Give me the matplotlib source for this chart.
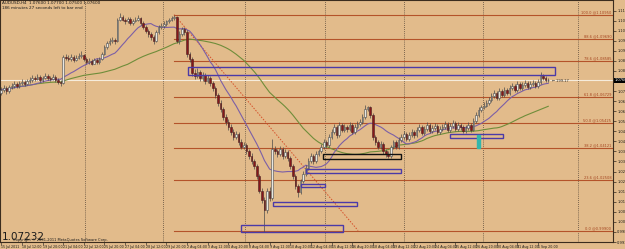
import numpy as np
import pandas as pd
import matplotlib
matplotlib.use("Agg")
import matplotlib.pyplot as plt
from matplotlib.patches import Rectangle
import matplotlib.transforms as mtransforms

### Data (H4 candles, prices in pips of 0.0001) ###
PIP = 1e-4
open_first = 10695
close_pips = [
    10710, 10720, 10705, 10725, 10730, 10740, 10730, 10745, 10750, 10740,
    10755, 10760, 10770, 10765, 10775, 10760, 10770, 10780, 10770, 10765,
    10775, 10760, 10750, 10745, 10880, 10875, 10870, 10880, 10865, 10875,
    10885, 10890, 10870, 10855, 10860, 10845, 10865, 10855, 10870, 10895,
    10930, 10950, 10960, 10965, 10960, 11070, 11085, 11070, 11060, 11075,
    11050, 11065, 11070, 11080, 11050, 11030, 11010, 10995, 10980, 10960,
    11005, 11030, 11035, 11045, 11060, 11070, 11080, 11085, 10960, 10995,
    11020, 11005, 10895, 10870, 10795, 10780, 10800, 10770, 10785, 10755,
    10770, 10745, 10720, 10685, 10645, 10610, 10570, 10545, 10520, 10495,
    10470, 10485, 10445, 10420, 10430, 10395, 10370, 10345, 10320, 10270,
    10195, 10145, 10095, 10195, 10155, 10410, 10395, 10380, 10410, 10370,
    10390, 10360, 10320, 10270, 10220, 10185, 10245, 10280, 10310, 10345,
    10370, 10345, 10380, 10395, 10420, 10445, 10430, 10470, 10495, 10520,
    10480, 10530, 10505, 10520, 10510, 10530, 10495, 10520, 10535, 10545,
    10570, 10610, 10620, 10580, 10470, 10445, 10420, 10435, 10395, 10380,
    10370, 10420, 10445, 10420, 10455, 10470, 10485, 10460, 10480, 10495,
    10480, 10505, 10520, 10490, 10510, 10530, 10500, 10515, 10525, 10495,
    10510, 10520, 10535, 10505, 10525, 10540, 10510, 10530, 10520, 10500,
    10515, 10530, 10505, 10550, 10580, 10605, 10620, 10630, 10645, 10660,
    10680, 10695, 10670, 10705, 10685, 10710, 10695, 10720, 10730, 10710,
    10740, 10720, 10735, 10745, 10725, 10740, 10745, 10730, 10750, 10780,
    10770, 10760, 10760,
]
high_pips = [
    10725, 10735, 10730, 10735, 10745, 10755, 10750, 10755, 10765, 10760,
    10765, 10775, 10785, 10780, 10790, 10785, 10780, 10795, 10790, 10780,
    10790, 10785, 10770, 10760, 10890, 10895, 10890, 10895, 10890, 10890,
    10900, 10910, 10895, 10880, 10875, 10870, 10875, 10875, 10880, 10905,
    10940, 10960, 10975, 10980, 10975, 11080, 11105, 11095, 11080, 11085,
    11085, 11075, 11085, 11095, 11085, 11060, 11040, 11020, 11005, 10990,
    11015, 11040, 11050, 11060, 11070, 11080, 11090, 11095, 11090, 11010,
    11030, 11030, 11015, 10905, 10880, 10815, 10820, 10810, 10800, 10795,
    10785, 10780, 10755, 10730, 10695, 10660, 10620, 10585, 10560, 10535,
    10510, 10500, 10495, 10460, 10445, 10440, 10405, 10385, 10355, 10330,
    10280, 10210, 10160, 10210, 10215, 10460, 10425, 10405, 10425, 10420,
    10405, 10400, 10370, 10330, 10280, 10230, 10255, 10295, 10325, 10360,
    10385, 10380, 10395, 10410, 10435, 10460, 10455, 10485, 10510, 10535,
    10530, 10545, 10540, 10535, 10530, 10545, 10540, 10535, 10550, 10560,
    10585, 10635, 10630, 10625, 10590, 10480, 10455, 10450, 10445, 10405,
    10395, 10430, 10455, 10455, 10470, 10485, 10500, 10495, 10495, 10510,
    10505, 10520, 10535, 10530, 10525, 10545, 10540, 10530, 10540, 10535,
    10525, 10535, 10550, 10545, 10540, 10555, 10550, 10545, 10540, 10530,
    10530, 10545, 10540, 10565, 10595, 10620, 10635, 10650, 10660, 10675,
    10695, 10710, 10705, 10720, 10715, 10725, 10720, 10735, 10745, 10740,
    10755, 10750, 10750, 10760, 10755, 10755, 10760, 10755, 10765, 10800,
    10790, 10780, 10770,
]
low_pips = [
    10685, 10700, 10690, 10695, 10715, 10720, 10720, 10720, 10735, 10730,
    10735, 10745, 10750, 10755, 10760, 10750, 10750, 10765, 10760, 10755,
    10760, 10750, 10740, 10730, 10740, 10865, 10860, 10860, 10855, 10860,
    10870, 10875, 10860, 10845, 10845, 10835, 10840, 10845, 10845, 10865,
    10890, 10920, 10940, 10950, 10945, 10955, 11060, 11060, 11045, 11050,
    11040, 11040, 11055, 11060, 11040, 11020, 11000, 10980, 10965, 10945,
    10955, 10995, 11020, 11025, 11035, 11050, 11060, 11070, 10950, 10945,
    10985, 10990, 10880, 10855, 10780, 10765, 10770, 10755, 10755, 10740,
    10745, 10730, 10705, 10670, 10630, 10595, 10555, 10530, 10505, 10480,
    10455, 10460, 10430, 10405, 10410, 10380, 10355, 10330, 10305, 10255,
    10180, 10130, 9985, 10080, 10140, 10145, 10380, 10365, 10370, 10355,
    10360, 10345, 10305, 10255, 10205, 10160, 10175, 10235, 10270, 10300,
    10335, 10330, 10335, 10370, 10385, 10410, 10415, 10420, 10460, 10485,
    10465, 10470, 10495, 10495, 10495, 10500, 10485, 10485, 10510, 10525,
    10535, 10560, 10600, 10565, 10455, 10430, 10405, 10410, 10380, 10365,
    10360, 10360, 10410, 10405, 10410, 10445, 10460, 10450, 10450, 10470,
    10465, 10470, 10495, 10480, 10480, 10500, 10490, 10490, 10505, 10485,
    10485, 10500, 10510, 10495, 10495, 10515, 10500, 10500, 10505, 10490,
    10490, 10505, 10495, 10500, 10540, 10570, 10595, 10610, 10620, 10635,
    10650, 10670, 10660, 10660, 10675, 10675, 10685, 10685, 10710, 10700,
    10700, 10710, 10710, 10725, 10715, 10715, 10730, 10720, 10720, 10740,
    10760, 10750, 10750,
]
time_labels = [
    "15 Jul 2011", "18 Jul 12:00", "19 Jul 20:00", "21 Jul 04:00", "22 Jul 12:00",
    "25 Jul 20:00", "27 Jul 04:00", "28 Jul 12:00", "29 Jul 20:00", "2 Aug 04:00",
    "3 Aug 12:00", "4 Aug 20:00", "8 Aug 04:00", "9 Aug 12:00", "10 Aug 20:00",
    "12 Aug 04:00", "15 Aug 12:00", "16 Aug 20:00", "18 Aug 04:00", "19 Aug 12:00",
    "22 Aug 20:00", "24 Aug 04:00", "25 Aug 12:00", "26 Aug 20:00", "30 Aug 04:00",
    "31 Aug 12:00", "1 Sep 20:00",
]
week_separators = [32.4, 62.7, 94.5, 125.5, 156.1, 186.7, 223.5]

# fibonacci retracement anchors (bar, price)
fib_high = (67, 1.10950)
fib_low = (138.3, 0.99900)
fib_levels = [0.0, 23.6, 38.2, 50.0, 61.8, 78.6, 88.6, 100.0]

# drawn boxes: (bar start, bar end, price low, price high, colour)
boxes = [
    (72.4, 214.6, 1.0785, 1.0825, "#4b3aa8"),
    (124.7, 154.9, 1.0355, 1.0380, "#111111"),
    (118.1, 154.9, 1.0285, 1.0305, "#4b3aa8"),
    (116.2, 125.5, 1.0215, 1.0230, "#4b3aa8"),
    (105.3, 137.9, 1.0115, 1.0135, "#4b3aa8"),
    (92.9, 132.4, 0.9985, 1.0020, "#4b3aa8"),
    (173.9, 194.5, 1.0465, 1.0483, "#4b3aa8"),
]
teal_mark = (184.2, 185.4, 1.0415, 1.0480)
price_now = 1.07600

### Prepare ###
close = np.array(close_pips) * PIP
high = np.array(high_pips) * PIP
low = np.array(low_pips) * PIP
opn = np.concatenate([[open_first * PIP], close[:-1]])
idx = np.arange(len(close))
ma_fast = pd.Series(close).rolling(14, min_periods=1).mean()
ma_slow = pd.Series(close).rolling(50, min_periods=1).mean()

BG = "#e2bb8b"
fig = plt.figure(figsize=(6.25, 2.49), dpi=100, facecolor=BG)
ax = fig.add_axes([0, 7 / 249, 613 / 625, 242 / 249])
ax.set_facecolor(BG)
ax.set_xlim(-0.5, 237.1)
ax.set_ylim(0.9960, 1.1170)

for xs in week_separators:
    ax.axvline(xs, color="#5a4a3a", linestyle=(0, (1, 1.5)), linewidth=0.6, zorder=1)

ax.axhline(price_now, color="#f6ecdc", linewidth=0.8, zorder=1)

# fibonacci
fr = fib_high[1] - fib_low[1]
for lv in fib_levels:
    p = fib_low[1] + fr * lv / 100
    ax.plot([fib_high[0], 237.1], [p, p], color="#b4532a", linewidth=0.8, zorder=1)
    ax.text(236.5, p + 0.0003, f"{lv:.1f} @{p:.5f}", fontsize=2.6, color="#a4441f",
            ha="right", va="bottom", zorder=5)
ax.plot([fib_high[0], fib_low[0]], [fib_high[1], fib_low[1]], color="#d5502a",
        linestyle=(0, (1.5, 1.5)), linewidth=0.7, zorder=1)

# moving averages
ax.plot(idx, ma_slow, color="#6f8d3a", linewidth=0.8, zorder=2)
ax.plot(idx, ma_fast, color="#7c5fa6", linewidth=0.8, zorder=2)

# candles
up = close >= opn
ax.vlines(idx, low, high, color="#4a4a4a", linewidth=0.5, zorder=3)
body_lo = np.minimum(opn, close)
body_h = np.maximum(np.abs(close - opn), 0.00008)
ax.bar(idx[up], body_h[up], bottom=body_lo[up], width=0.62, color="#e6e6e2",
       edgecolor="#4a4a4a", linewidth=0.4, zorder=4)
ax.bar(idx[~up], body_h[~up], bottom=body_lo[~up], width=0.62, color="#86171a",
       edgecolor="#4a2020", linewidth=0.4, zorder=4)

for x0, x1, y0, y1, col in boxes:
    ax.add_patch(Rectangle((x0, y0), x1 - x0, y1 - y0, fill=False, edgecolor=col,
                           linewidth=1.0, zorder=5))
ax.add_patch(Rectangle((teal_mark[0], teal_mark[2]), teal_mark[1] - teal_mark[0],
                       teal_mark[3] - teal_mark[2], color="#33b6ab", zorder=5))

ax.text(idx[-1] + 1.5, price_now - 0.0004, "\u2190 199.17", fontsize=2.6,
        color="#2a2a2a", va="center", zorder=6)

# axes, ticks
for s in ax.spines.values():
    s.set_color("#3b2c1e")
    s.set_linewidth(0.8)
ax.set_xticks(idx[::8][:len(time_labels)])
ax.set_xticklabels(time_labels, fontsize=2.3, ha="left", color="#1a1a1a")
ax.tick_params(axis="x", length=2, width=0.4, pad=0.5, colors="#1a1a1a")
ax.yaxis.tick_right()
yt = 1.11160 - 0.00515 * np.arange(24)
yt = yt[np.abs(yt - price_now) > 0.0028]
ax.set_yticks(yt)
ax.set_yticklabels([f"{v:.5f}" for v in yt], fontsize=2.6, color="#1a1a1a")
ax.tick_params(axis="y", length=2, width=0.4, pad=1)
trans = mtransforms.blended_transform_factory(ax.transAxes, ax.transData)
ax.text(1.003, price_now, f"{price_now:.5f}", transform=trans, fontsize=2.6,
        color="white", va="center", ha="left",
        bbox=dict(boxstyle="square,pad=0.15", fc="black", ec="none"), zorder=7)

fig.text(2 / 625, 1 - 1 / 249, "AUDUSD,H4  1.07600 1.07700 1.07500 1.07600",
         fontsize=3, va="top", color="#1a1a1a")
fig.text(2 / 625, 1 - 6 / 249, "186 minutes 27 seconds left to bar end",
         fontsize=3, va="top", color="#1a1a1a")
fig.text(2 / 625, (249 - 239.5) / 249, "1.07232", fontsize=7.5, color="#1a1a1a",
         va="baseline")
fig.text(13 / 625, (249 - 242) / 249, "Copyright \u00a9 2001-2011 MetaQuotes Software Corp.",
         fontsize=2.6, color="#1a1a1a", va="bottom")

fig.savefig("out.png", dpi=100, facecolor=BG)
